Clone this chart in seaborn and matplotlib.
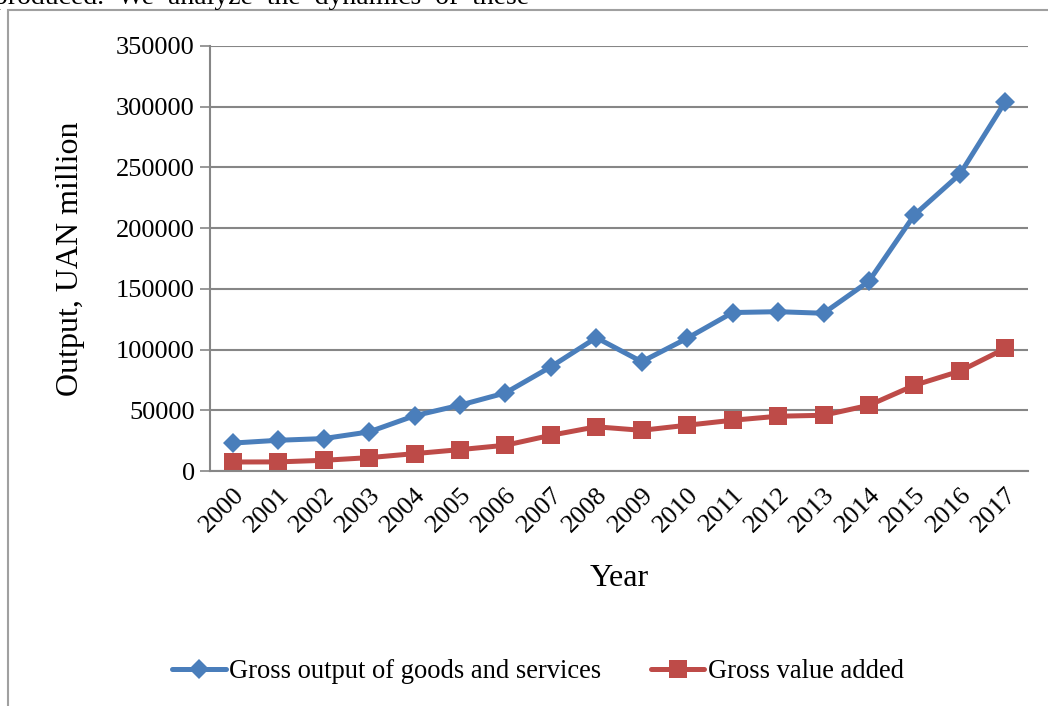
import matplotlib
matplotlib.use("Agg")
import matplotlib.pyplot as plt
import seaborn as sns
import pandas as pd
from matplotlib.patches import Rectangle
from matplotlib.lines import Line2D

years = [2000, 2001, 2002, 2003, 2004, 2005, 2006, 2007, 2008,
         2009, 2010, 2011, 2012, 2013, 2014, 2015, 2016, 2017]
gross_output = [23000, 25300, 26700, 32200, 45500, 54200, 64300, 85800, 109800,
                90000, 109300, 130500, 131200, 129900, 156300, 210900, 244400, 304200]
gross_value_added = [7400, 7500, 8800, 11000, 14300, 17600, 21200, 29400, 36400,
                     33500, 37700, 41800, 45100, 45900, 54100, 70600, 82200, 100900]
series_names = ["Gross output of goods and services", "Gross value added"]
y_ticks = [0, 50000, 100000, 150000, 200000, 250000, 300000, 350000]

df = pd.DataFrame({
    "Year": years * 2,
    "Value": gross_output + gross_value_added,
    "Series": [series_names[0]] * len(years) + [series_names[1]] * len(years),
})

sns.set_theme(style="white")
plt.rcParams["font.family"] = ["Liberation Serif", "DejaVu Serif"]
plt.rcParams["text.color"] = "black"
plt.rcParams["axes.labelcolor"] = "black"
plt.rcParams["xtick.color"] = "black"
plt.rcParams["ytick.color"] = "black"

W, H = 1048, 706
fig = plt.figure(figsize=(W / 100, H / 100), dpi=100)
ax = fig.add_axes([210 / W, 1 - 471 / H, (1028 - 210) / W, (471 - 46) / H])

palette = {series_names[0]: "#4A7EBB", series_names[1]: "#BE4B48"}
sns.lineplot(data=df, x="Year", y="Value", hue="Series", style="Series",
             markers={series_names[0]: "D", series_names[1]: "s"},
             dashes=False, palette=palette, linewidth=3.6,
             markersize=10, markeredgewidth=0, ax=ax, legend=False)
for line in ax.get_lines():
    if line.get_marker() == "s":
        line.set_markersize(13)

ax.set_xlim(years[0] - 0.5, years[-1] + 0.5)
ax.set_ylim(0, 350000)
ax.set_yticks(y_ticks)
ax.set_yticklabels([str(v) for v in y_ticks], fontsize=19)
ax.set_xticks(years)
ax.set_xticklabels([str(y) for y in years], rotation=45, ha="right",
                   rotation_mode="anchor", fontsize=19)
ax.tick_params(axis="x", length=0, pad=9)
ax.tick_params(axis="y", length=7, width=1.2, color="#868686", pad=4, left=True)
ax.grid(axis="y", color="#868686", linewidth=1.5)
ax.set_axisbelow(True)
for s in ["top", "right"]:
    ax.spines[s].set_visible(False)
for s in ["left", "bottom"]:
    ax.spines[s].set_color("#868686")
    ax.spines[s].set_linewidth(1.5)

ax.set_xlabel("Year", fontsize=23, labelpad=20)
ax.set_ylabel("Output, UAN million", fontsize=23, labelpad=22)

handles = [Line2D([], [], color=palette[series_names[0]], marker="D", markersize=10,
                  linewidth=3.6, markeredgewidth=0),
           Line2D([], [], color=palette[series_names[1]], marker="s", markersize=13,
                  linewidth=3.6, markeredgewidth=0)]
fig.legend(handles, series_names, loc="center", bbox_to_anchor=(538 / W, 1 - 672 / H),
           ncol=2, frameon=False, fontsize=19.1, handlelength=2.0, handletextpad=0.12,
           columnspacing=1.9)

# outer chart border
fig.patches.append(Rectangle((8 / W, -0.1), 1.2, 1 - 10 / H + 0.1, transform=fig.transFigure,
                             fill=False, edgecolor="#A0A0A0", linewidth=1.5))
# clipped document text above the chart
fig.text(-6 / W, 1 - 4 / H, "produced.  We  analyze  the  dynamics  of  these",
         fontsize=20, va="baseline", ha="left")

fig.savefig("out.png", dpi=100)
